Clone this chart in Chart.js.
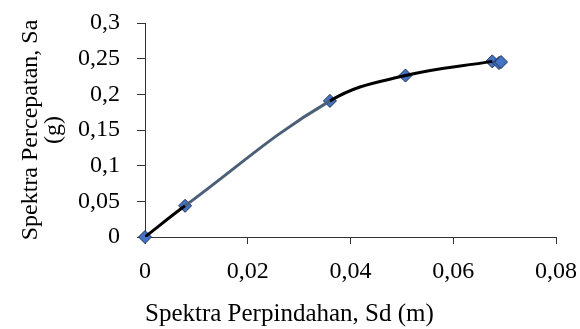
<!DOCTYPE html>
<html>
<head>
<meta charset="utf-8">
<script src="https://cdn.jsdelivr.net/npm/chart.js@4"></script>
<style>
  body { margin: 0; background: #fff; }
  #wrap { width: 580px; height: 329px; position: relative; }
</style>
</head>
<body>
<div id="wrap"><canvas id="spektraChart"></canvas></div>
<script>
// Data
const sdValues = [0, 0.0078, 0.036, 0.0507, 0.0676, 0.0689, 0.0693];   // Sd (m)
const saValues = [0, 0.0437, 0.1908, 0.2263, 0.2462, 0.2439, 0.2453];  // Sa (g)
const curveCount = 5; // smooth line runs through the first points only
const xTicks = [0, 0.02, 0.04, 0.06, 0.08];
const yTicks = [0, 0.05, 0.1, 0.15, 0.2, 0.25, 0.3];

const pts = sdValues.map(function(x, i) { return { x: x, y: saValues[i] }; });

function koma(v) {
    return String(Number(v.toFixed(3))).replace('.', ',');
}

const family = '"Liberation Serif", "Times New Roman", serif';
const tickFont = { family: family, size: 24 };

new Chart(document.getElementById('spektraChart'), {
    type: 'scatter',
    data: {
        datasets: [{
            data: pts.slice(0, curveCount),
            showLine: true,
            pointRadius: 0,
            borderWidth: 3,
            borderColor: '#000',
            tension: 0.4,
            segment: {
                borderColor: function(ctx) {
                    return ctx.p0DataIndex === 1 ? '#4b5f77' : '#000';
                }
            }
        }, {
            data: pts,
            showLine: false,
            clip: false,
            pointStyle: 'rectRot',
            pointRadius: 6.5,
            pointBackgroundColor: '#4472c4',
            pointBorderColor: '#1f2f4f',
            pointBorderWidth: 1
        }]
    },
    options: {
        responsive: true,
        maintainAspectRatio: false,
        animation: false,
        layout: { padding: { top: 23, right: 24, bottom: 0, left: 0 } },
        plugins: { legend: { display: false }, tooltip: { enabled: false } },
        scales: {
            x: {
                type: 'linear',
                min: 0, max: 0.08,
                afterBuildTicks: function(s) { s.ticks = xTicks.map(function(v) { return { value: v }; }); },
                afterFit: function(s) { s.height = 92; s.paddingLeft = 0; s.paddingRight = 0; },
                border: { color: '#333', width: 1 },
                grid: { drawOnChartArea: false, drawTicks: true, tickLength: 7, color: '#333' },
                ticks: { color: '#000', font: tickFont, padding: 13, maxRotation: 0, callback: koma },
                title: {
                    display: true, text: 'Spektra Perpindahan, Sd (m)', align: 'start',
                    color: '#000', font: { family: family, size: 25 }, padding: { top: 0, bottom: 0 }
                }
            },
            y: {
                type: 'linear',
                min: 0, max: 0.3,
                afterBuildTicks: function(s) { s.ticks = yTicks.map(function(v) { return { value: v }; }); },
                afterFit: function(s) { s.width = 145; s.paddingTop = 0; s.paddingBottom = 0; },
                border: { color: '#333', width: 1 },
                grid: { drawOnChartArea: false, drawTicks: true, tickLength: 8, color: '#333' },
                ticks: { color: '#000', font: tickFont, padding: 17, callback: koma },
                title: {
                    display: true, text: ['Spektra Percepatan, Sa', '(g)'],
                    color: '#000', font: { family: family, size: 24, lineHeight: 0.96 },
                    padding: { top: 19, bottom: 0 }
                }
            }
        }
    }
});
</script>
</body>
</html>
